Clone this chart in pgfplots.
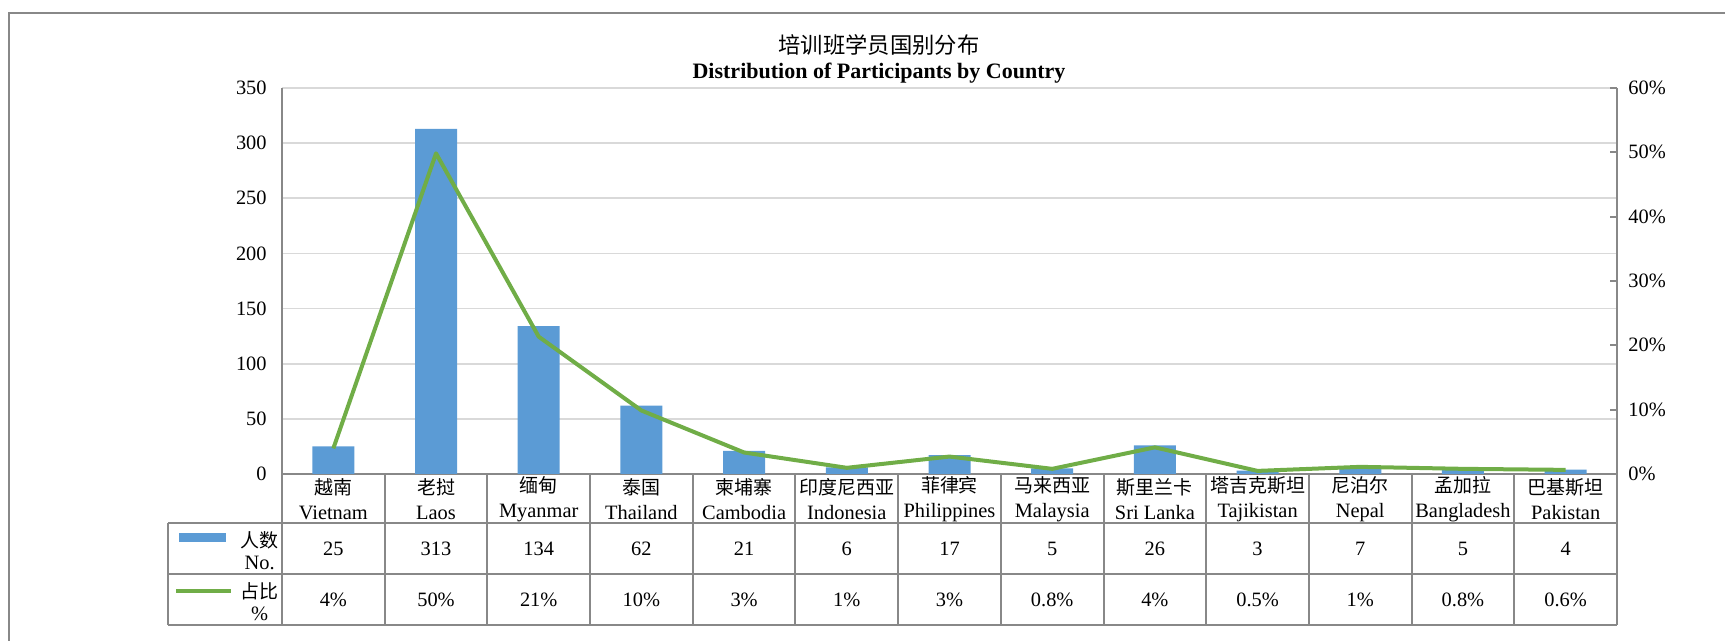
\documentclass[border=0pt]{standalone}
\usepackage{pgfplots}
\pgfplotsset{compat=1.18}
\usepackage{fontspec}
\setmainfont{Liberation Serif}
\newfontfamily\cjk[Scale=0.93]{Noto Sans CJK SC}

\definecolor{barblue}{HTML}{5B9BD5}
\definecolor{lgreen}{HTML}{70AD47}
\definecolor{axgray}{HTML}{888888}
\definecolor{grgray}{HTML}{D9D9D9}

% one table column under a category: header, count, share
\newcommand{\cell}[2]{\hbox{\parbox[c][#1][c]{51pt}{\fontsize{10.2}{12.5}\selectfont\centering #2}}}
\newcommand{\col}[4]{\vbox{\cell{24.5pt}{{\cjk #1}\\#2}\nointerlineskip\cell{25.5pt}{#3}\nointerlineskip\cell{25.5pt}{#4}}}

\begin{document}
\begin{tikzpicture}
\useasboundingbox (0,0) rectangle (862.5pt,320.5pt);
\draw[axgray, line width=1pt] (4.5pt,0) -- (4.5pt,314pt) -- (862.5pt,314pt);

\begin{axis}[
    at={(141pt,83.5pt)}, anchor=south west,
    scale only axis, width=667.5pt, height=193pt,
    xmin=-0.5, xmax=12.5, ymin=0, ymax=350,
    axis x line*=bottom, axis y line*=left,
    axis line style={axgray, line width=1pt},
    xtick={0,...,12}, ytick={0,50,...,350},
    xtick style={draw=none}, ytick style={draw=none},
    ymajorgrids, grid style={grgray, line width=0.9pt},
    /pgf/number format/assume math mode=true,
    yticklabel style={font=\fontsize{10.2}{12}\selectfont, inner sep=0pt, xshift=-7.5pt},
    xticklabel style={anchor=north, inner sep=0pt},
    xticklabels={
        {\col{越南}{Vietnam}{25}{4\%}},
        {\col{老挝}{Laos}{313}{50\%}},
        {\col{缅甸}{Myanmar}{134}{21\%}},
        {\col{泰国}{Thailand}{62}{10\%}},
        {\col{柬埔寨}{Cambodia}{21}{3\%}},
        {\col{印度尼西亚}{Indonesia}{6}{1\%}},
        {\col{菲律宾}{Philippines}{17}{3\%}},
        {\col{马来西亚}{Malaysia}{5}{0.8\%}},
        {\col{斯里兰卡}{Sri Lanka}{26}{4\%}},
        {\col{塔吉克斯坦}{Tajikistan}{3}{0.5\%}},
        {\col{尼泊尔}{Nepal}{7}{1\%}},
        {\col{孟加拉}{Bangladesh}{5}{0.8\%}},
        {\col{巴基斯坦}{Pakistan}{4}{0.6\%}}},
]
\addplot[ybar, bar width=21pt, fill=barblue, draw=none] coordinates {
    (0,25) (1,313) (2,134) (3,62) (4,21) (5,6) (6,17)
    (7,5) (8,26) (9,3) (10,7) (11,5) (12,4)};
\end{axis}

\begin{axis}[
    at={(141pt,83.5pt)}, anchor=south west,
    scale only axis, width=667.5pt, height=193pt,
    xmin=-0.5, xmax=12.5, ymin=0, ymax=60,
    axis x line=none, axis y line*=right,
    axis line style={axgray, line width=1pt},
    ytick={0,10,...,60},
    ytick style={axgray, line width=1pt}, tick align=inside, major tick length=3.5pt,
    /pgf/number format/assume math mode=true,
    yticklabel={\pgfmathprintnumber{\tick}\%},
    yticklabel style={font=\fontsize{10.2}{12}\selectfont, inner sep=0pt, xshift=5.5pt},
]
\addplot[lgreen, line width=2pt, line join=round, mark=none] coordinates {
    (0,3.98) (1,49.84) (2,21.34) (3,9.87) (4,3.34) (5,0.96) (6,2.71)
    (7,0.80) (8,4.14) (9,0.48) (10,1.11) (11,0.80) (12,0.64)};
\end{axis}

% table grid
\begin{scope}[axgray, line width=1pt]
\foreach \k in {0,...,13} {
    \pgfmathsetmacro{\xx}{141+\k*51.34615}
    \draw (\xx pt,8pt) -- (\xx pt,83.5pt);
}
\draw (84pt,59pt) -- (808.5pt,59pt);
\draw (84pt,33.5pt) -- (808.5pt,33.5pt);
\draw (84pt,8pt) -- (808.5pt,8pt);
\draw (84pt,8pt) -- (84pt,59pt);
\end{scope}

% legend keys in the table
\fill[barblue] (89.5pt,49.25pt) rectangle (113pt,53.75pt);
\draw[lgreen, line width=2pt] (88pt,25pt) -- (115.5pt,25pt);
\node[anchor=east, align=center, inner sep=0pt, font=\fontsize{10.2}{11}\selectfont] at (139.5pt,45pt) {{\cjk 人数}\\No.};
\node[anchor=east, align=center, inner sep=0pt, font=\fontsize{10.2}{11}\selectfont] at (139.5pt,19.5pt) {{\cjk 占比}\\\%};

% title
\node[anchor=base, inner sep=0pt, font=\fontsize{12}{14}\selectfont] at (439.5pt,293.7pt) {\cjk 培训班学员国别分布};
\node[anchor=base, inner sep=0pt, font=\fontsize{11}{13}\selectfont\bfseries] at (439.5pt,281pt) {Distribution of Participants by Country};
\end{tikzpicture}
\end{document}
